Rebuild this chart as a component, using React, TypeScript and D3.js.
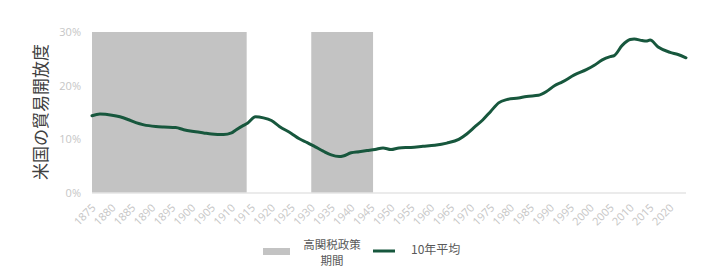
import React from "react";
import * as d3 from "d3";

const years = [1875,1877,1880,1882,1884,1886,1888,1891,1893,1896,1898,1901,1903,1905,1908,1910,1911,1913,1914,1916,1918,1920,1922,1925,1927,1929,1931,1933,1935,1937,1938,1940,1942,1944,1946,1948,1950,1952,1955,1958,1961,1964,1967,1969,1971,1973,1975,1977,1979,1982,1984,1987,1989,1991,1993,1996,1999,2001,2003,2005,2006,2008,2010,2011,2013,2014,2015,2017,2020,2022,2024];
const openness = [14.4,14.7,14.5,14.2,13.7,13.1,12.7,12.4,12.3,12.2,11.8,11.4,11.2,11.0,10.9,11.2,11.7,12.6,13.0,14.2,14.0,13.5,12.4,11.1,10.1,9.4,8.6,7.8,7.1,6.8,6.9,7.5,7.7,7.9,8.1,8.4,8.1,8.4,8.5,8.7,8.9,9.3,10.0,11.0,12.3,13.6,15.2,16.8,17.4,17.7,18.0,18.2,18.9,20.0,20.7,22.0,23.0,23.8,24.8,25.4,25.6,27.5,28.6,28.7,28.4,28.3,28.5,27.2,26.2,25.8,25.2];
const tariffStarts = [1875, 1930];
const tariffEnds = [1913.8, 1945.5];
const yTicks = [0, 10, 20, 30];
const xTickYears = d3.range(1875, 2021, 5);
const yTitle = "米国の貿易開放度";
const legendShade = ["高関税政策", "期間"];
const legendLine = "10年平均";

export default function App() {
  const x = d3.scaleLinear().domain([1875, 2024]).range([92, 686]);
  const y = d3.scaleLinear().domain([0, 30]).range([193, 32]);
  const line = d3.line<number>().x((_, i) => x(years[i])).y((d) => y(d)).curve(d3.curveMonotoneX);
  const font = "'Open Sans', 'Noto Sans CJK JP', sans-serif";
  const cjk = "'Noto Sans CJK JP', sans-serif";
  return (
    <svg width={715} height={275} style={{ position: "fixed", left: 0, top: 0, background: "#fff" }} fontFamily={font}>
      {tariffStarts.map((s, i) => (
        <rect key={i} x={x(s)} y={y(30)} width={x(tariffEnds[i]) - x(s)} height={y(0) - y(30)} fill="#c3c3c3" />
      ))}
      <line x1={x(1875)} x2={x(2024)} y1={y(0)} y2={y(0)} stroke="#e4e4e4" strokeWidth={1.5} />
      {yTicks.map((t) => (
        <text key={t} x={81} y={y(t)} dy="0.35em" textAnchor="end" fontSize={11} fill="#c6c6c6">{t}%</text>
      ))}
      {xTickYears.map((t) => (
        <text key={t} transform={`translate(${x(t) - 1},${203}) rotate(-45)`} textAnchor="end" dy="0.7em" fontSize={11} fill="#c6c6c6">{t}</text>
      ))}
      <path d={line(openness) || ""} fill="none" stroke="#17573d" strokeWidth={3} strokeLinejoin="round" strokeLinecap="round" />
      <text transform={`translate(41,112) rotate(-90)`} textAnchor="middle" dy="0.35em" fontSize={17} fill="#404040" fontFamily={cjk}>{yTitle}</text>
      <rect x={263} y={248} width={27} height={7} fill="#c3c3c3" />
      <text x={332} y={244.5} dy="0.35em" textAnchor="middle" fontSize={11.5} fill="#595959" fontFamily={cjk}>{legendShade[0]}</text>
      <text x={332} y={261} dy="0.35em" textAnchor="middle" fontSize={11.5} fill="#595959" fontFamily={cjk}>{legendShade[1]}</text>
      <line x1={373} x2={395} y1={251} y2={251} stroke="#17573d" strokeWidth={3} />
      <text x={411} y={250} dy="0.35em" fontSize={12} fill="#595959" fontFamily={cjk}>{legendLine}</text>
    </svg>
  );
}
